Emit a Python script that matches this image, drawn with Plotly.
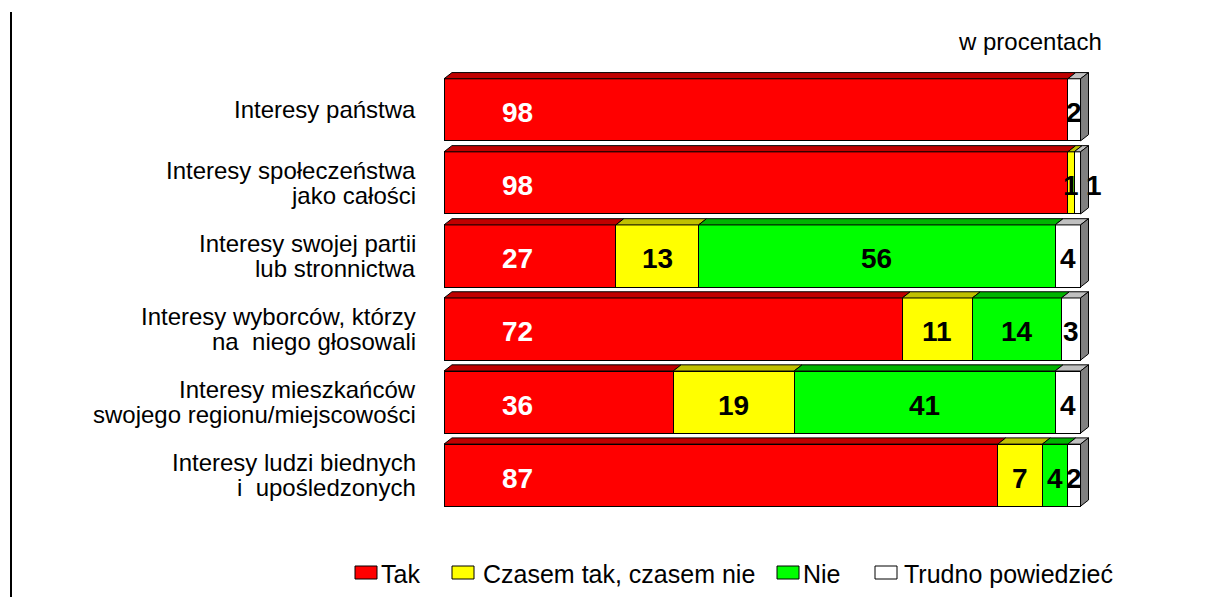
import plotly.graph_objects as go

categories = [
    "Interesy państwa",
    "Interesy społeczeństwa<br>jako całości",
    "Interesy swojej partii<br>lub stronnictwa",
    "Interesy wyborców, którzy <br>na  niego głosowali",
    "Interesy mieszkańców <br>swojego regionu/miejscowości",
    "Interesy ludzi biednych<br>i  upośledzonych",
]
series_names = ["Tak", "Czasem tak, czasem nie", "Nie", "Trudno powiedzieć"]
tak = [98, 98, 27, 72, 36, 87]
czasem = [0, 1, 13, 11, 19, 7]
nie = [0, 0, 56, 14, 41, 4]
trudno = [2, 1, 4, 3, 4, 2]

front_colors = ["#FF0000", "#FFFF00", "#00FF00", "#FFFFFF"]
top_colors = ["#C00000", "#C0C000", "#00B400", "#C0C0C0"]
side_color = "#808080"
label_colors = ["white", "black", "black", "black"]

series = [tak, czasem, nie, trudno]
n = len(categories)
ypos = list(range(n))
bar_w = 0.85
h = bar_w / 2
dx = 1.25
dy = 0.085

# layout geometry (pixels)
W, H = 1209, 597
ML, MR, MT, MB = 444, 103, 66, 78
PW, PH = W - ML - MR, H - MT - MB


def px_x(p):
    return (p - ML) / PW


def px_y(p):
    return (H - MB - p) / PH


fig = go.Figure()
for name, vals, col in zip(series_names, series, front_colors):
    fig.add_trace(go.Bar(
        y=ypos, x=vals, name=name, orientation="h", width=bar_w,
        marker=dict(color=col, line=dict(color="black", width=1)),
        hoverinfo="skip", showlegend=False,
    ))

annotations = []
shapes = []
font_lbl = dict(family="Liberation Sans, Arial, sans-serif", size=28, color="black")
for i in range(n):
    start = 0
    total = sum(s[i] for s in series)
    last_idx = max(k for k in range(4) if series[k][i] > 0)
    for k in range(4):
        v = series[k][i]
        if v <= 0:
            continue
        x0, x1 = start, start + v
        # top face
        fig.add_trace(go.Scatter(
            x=[x0, x0 + dx, x1 + dx, x1, x0],
            y=[i - h, i - h - dy, i - h - dy, i - h, i - h],
            mode="lines", fill="toself", fillcolor=top_colors[k],
            line=dict(color="black", width=1), showlegend=False, hoverinfo="skip",
        ))
        # label
        if k == 0:
            lx = min(v / 2, 11.6)
        elif k == last_idx and v <= 1:
            lx = total + 2.1
        else:
            lx = (x0 + x1) / 2
        annotations.append(dict(
            x=lx, y=i + 0.04, xref="x", yref="y", text=f"<b>{v}</b>",
            showarrow=False, font=dict(font_lbl, color=label_colors[k]),
            xanchor="center", yanchor="middle",
        ))
        start = x1
    # side face
    fig.add_trace(go.Scatter(
        x=[total, total + dx, total + dx, total, total],
        y=[i - h, i - h - dy, i + h - dy, i + h, i - h],
        mode="lines", fill="toself", fillcolor=side_color,
        line=dict(color="black", width=1), showlegend=False, hoverinfo="skip",
    ))

# category labels
font_cat = dict(family="Liberation Sans, Arial, sans-serif", size=24, color="black")
line_gap = 0.17
for i, cat in enumerate(categories):
    lines = cat.split("<br>")
    m = len(lines)
    for j, ln in enumerate(lines):
        off = (j - (m - 1) / 2) * 2 * line_gap
        annotations.append(dict(
            x=px_x(418), y=i + off, xref="paper", yref="y", text=ln.rstrip(),
            showarrow=False, font=font_cat, xanchor="right", yanchor="middle",
        ))

annotations.append(dict(
    x=px_x(1104), y=px_y(42), xref="paper", yref="paper", text="w procentach",
    showarrow=False, font=font_cat, xanchor="right", yanchor="middle",
))

# legend (drawn manually for exact placement)
legend_sq_x = [355, 452, 777, 875]
legend_txt_x = [379, 481, 801, 902]
sq_w, sq_top, sq_bot, leg_y = 22, 566, 579, 574
for name, col, sx, tx in zip(series_names, front_colors, legend_sq_x, legend_txt_x):
    shapes.append(dict(
        type="rect", xref="paper", yref="paper",
        x0=px_x(sx), x1=px_x(sx + sq_w), y0=px_y(sq_bot), y1=px_y(sq_top),
        fillcolor=col, line=dict(color="black", width=1),
    ))
    annotations.append(dict(
        x=px_x(tx), y=px_y(leg_y), xref="paper", yref="paper", text=name,
        showarrow=False, font=dict(font_cat, size=25), xanchor="left", yanchor="middle",
    ))

shapes.append(dict(
    type="line", xref="paper", yref="paper",
    x0=px_x(11), x1=px_x(11), y0=px_y(12), y1=px_y(600),
    line=dict(color="black", width=2),
))

fig.update_layout(
    width=W, height=H,
    margin=dict(l=ML, r=MR, t=MT, b=MB),
    barmode="stack",
    plot_bgcolor="white", paper_bgcolor="white",
    xaxis=dict(range=[0, 104], visible=False, fixedrange=True),
    yaxis=dict(range=[n - 0.4, -0.6], visible=False, fixedrange=True),
    annotations=annotations,
    shapes=shapes,
    showlegend=False,
)

fig.write_html(
    "out.html",
    config={"displayModeBar": False},
    post_script="document.body.style.margin='0';document.body.style.padding='0';",
)
